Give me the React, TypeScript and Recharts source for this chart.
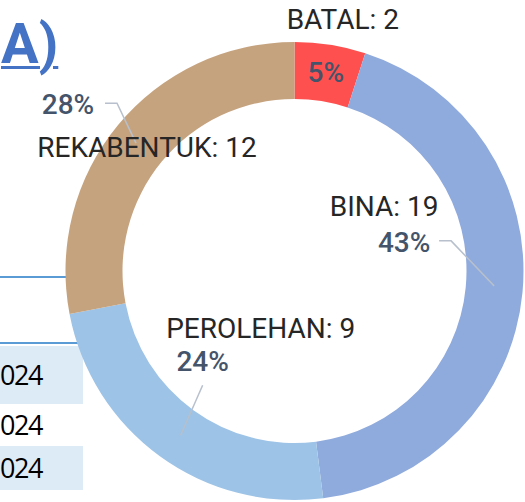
import { PieChart, Pie, Cell } from "recharts";

// slice data
const categories = ["BATAL", "BINA", "PEROLEHAN", "REKABENTUK"];
const counts = [2, 19, 9, 12];
const shares = [5, 43, 24, 28];
const colors = ["#FF5050", "#8FAADC", "#9DC3E6", "#C6A37F"];

// table fragment at the left edge
const rowTexts = ["024", "024", "024"];

const pieData = categories.map((c, i) => ({ name: c, count: counts[i], value: shares[i] }));

// label placement relative to each slice centroid (dragged labels in the original)
const labelLayout = [
  { name: [17, -53], pct: [0, 0], leader: null },
  { name: [-110, -83], pct: [-90, -47], leader: [[-55, -49], [-43, -49], [0, -4]] },
  { name: [84, -105], pct: [26, -72], leader: [[26, -48], [4, 2]] },
  { name: [7, 4], pct: [-72, -39], leader: [[-35, -40], [-23, -40], [-4, 0]] },
];

const RADIAN = Math.PI / 180;
const FONT = "Roboto, 'Noto Sans', sans-serif";

const renderLabel = (props: any) => {
  const { cx, cy, midAngle, innerRadius, outerRadius, index, percent } = props;
  const r = (innerRadius + outerRadius) / 2;
  const x = cx + r * Math.cos(-midAngle * RADIAN);
  const y = cy + r * Math.sin(-midAngle * RADIAN);
  const lay = labelLayout[index];
  const d = pieData[index];
  return (
    <g key={`lbl-${index}`}>
      {lay.leader && (
        <polyline
          points={lay.leader.map((p) => `${x + p[0]},${y + p[1]}`).join(" ")}
          fill="none"
          stroke="#B7C0CC"
          strokeWidth={1.5}
        />
      )}
      <text
        x={x + lay.name[0]}
        y={y + lay.name[1]}
        textAnchor="middle"
        dominantBaseline="central"
        fill="#262626"
        fontSize={28}
        fontFamily={FONT}
      >
        {`${d.name}: ${d.count}`}
      </text>
      <text
        x={x + lay.pct[0]}
        y={y + lay.pct[1]}
        textAnchor="middle"
        dominantBaseline="central"
        fill="#44546A"
        fontSize={28}
        fontWeight={500}
        fontFamily={FONT}
      >
        {`${Math.round(percent * 100)}%`}
      </text>
    </g>
  );
};

export default function App() {
  return (
    <div style={{ position: "relative", width: 525, height: 502, overflow: "hidden", background: "#fff" }}>
      <style>{`body{margin:0}`}</style>

      {/* heading fragment */}
      <div
        style={{
          position: "absolute", left: 1, top: 12, fontSize: 56, fontWeight: 700,
          color: "#4472C4", fontFamily: FONT, lineHeight: "64px", whiteSpace: "nowrap",
          textDecoration: "underline", textDecorationThickness: 3, textUnderlineOffset: 3,
        }}
      >
        A)
      </div>

      {/* table fragment */}
      <div style={{ position: "absolute", left: 0, top: 276, width: 80, height: 2, background: "#5B9BD5" }} />
      <div style={{ position: "absolute", left: 0, top: 342, width: 90, height: 2, background: "#5B9BD5" }} />
      <div style={{ position: "absolute", left: 0, top: 346, width: 83, height: 58, background: "#DDEBF7" }} />
      <div style={{ position: "absolute", left: 0, top: 446, width: 83, height: 44, background: "#DDEBF7" }} />
      {rowTexts.map((t, i) => (
        <div
          key={i}
          style={{
            position: "absolute", left: 0, top: [360, 410, 453][i], fontSize: 27, letterSpacing: -1.5,
            lineHeight: "30px", color: "#000", fontFamily: "'Open Sans', sans-serif",
          }}
        >
          {t}
        </div>
      ))}

      <div style={{ position: "absolute", left: 0, top: 0 }}>
        <PieChart width={525} height={502} margin={{ top: 0, right: 0, bottom: 0, left: 0 }}>
          <Pie
            data={pieData}
            dataKey="value"
            nameKey="name"
            cx={294.5}
            cy={271}
            innerRadius={172}
            outerRadius={229}
            startAngle={90}
            endAngle={-270}
            stroke="none"
            label={renderLabel}
            labelLine={false}
            isAnimationActive={false}
          >
            {pieData.map((d, i) => (
              <Cell key={d.name} fill={colors[i]} />
            ))}
          </Pie>
        </PieChart>
      </div>
    </div>
  );
}
